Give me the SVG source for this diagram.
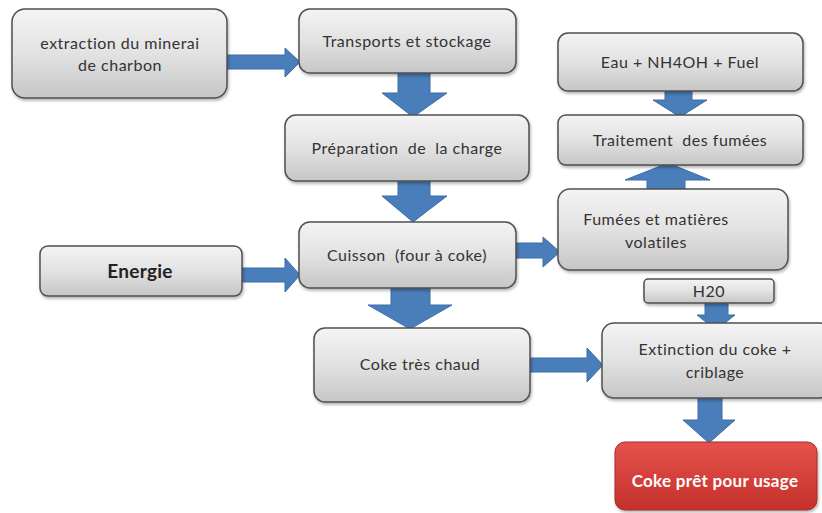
<svg xmlns="http://www.w3.org/2000/svg" width="822" height="513" viewBox="0 0 822 513">
  <style>
    .box { fill: url(#gray); stroke: #505050; stroke-width: 1.5; filter: url(#shadow); }
    .red { fill: url(#redg); stroke: #a52a2a; stroke-width: 1; filter: url(#shadow); }
    .lbl { font-family: Lato, "Open Sans", "Liberation Sans", sans-serif; font-size: 16px; letter-spacing: 0.5px; fill: #333; text-anchor: middle; }
    .big { font-size: 19px; font-weight: bold; fill: #222; letter-spacing: 0.3px; }
    .wht { fill: #fff; font-weight: bold; font-size: 17px; letter-spacing: 0.3px; }
    .arr { fill: #4a7ebb; stroke: #3d6da6; stroke-width: 1; stroke-linejoin: miter; }
  </style>
  <defs>
    <linearGradient id="gray" x1="0" y1="0" x2="0" y2="1">
      <stop offset="0" stop-color="#f4f4f4"/>
      <stop offset="0.5" stop-color="#e2e2e2"/>
      <stop offset="1" stop-color="#c6c6c6"/>
    </linearGradient>
    <linearGradient id="redg" x1="0" y1="0" x2="0" y2="1">
      <stop offset="0" stop-color="#e5524c"/>
      <stop offset="1" stop-color="#c5302c"/>
    </linearGradient>
    <filter id="shadow" x="-10%" y="-10%" width="125%" height="135%">
      <feDropShadow dx="1" dy="2" stdDeviation="1.5" flood-color="#000" flood-opacity="0.3"/>
    </filter>
  </defs>

  <!-- block arrows -->
  <g id="connectors">
    <polygon class="arr" points="227,55 285,55 285,48 300,62 285,77 285,69 227,69"/>
    <polygon class="arr" points="398,73 430,73 430,93 447,93 413,117 382,93 398,93"/>
    <polygon class="arr" points="398,181 430,181 430,196 447,196 413,222 382,196 398,196"/>
    <polygon class="arr" points="391,288 430,288 430,305 452,305 410,329 368,305 391,305"/>
    <polygon class="arr" points="242,268 285,268 285,258 300,275 285,292 285,282 242,282"/>
    <polygon class="arr" points="516,243 543,243 543,237 560,252 543,267 543,258 516,258"/>
    <polygon class="arr" points="665,91 692,91 692,100 707,100 680,117 653,100 665,100"/>
    <polygon class="arr" points="647,189 685,189 685,180 710,180 668,163 625,180 647,180"/>
    <polygon class="arr" points="705,303 728,303 728,315 735,315 716,330 697,315 705,315"/>
    <polygon class="arr" points="530,358 587,358 587,348 603,365 587,382 587,372 530,372"/>
    <polygon class="arr" points="698,398 722,398 722,420 735,420 709,443 683,420 698,420"/>
  </g>

  <g id="extraction">
    <rect class="box" x="12" y="9" width="215" height="89" rx="13"/>
    <text class="lbl" x="120" y="49">extraction du minerai</text>
    <text class="lbl" x="120" y="71">de charbon</text>
  </g>
  <g id="transports">
    <rect class="box" x="299" y="9" width="217" height="64" rx="11"/>
    <text class="lbl" x="407" y="47">Transports et stockage</text>
  </g>
  <g id="preparation">
    <rect class="box" x="285" y="115" width="244" height="66" rx="11"/>
    <text class="lbl" x="407" y="154" xml:space="preserve">Préparation  de  la charge</text>
  </g>
  <g id="cuisson">
    <rect class="box" x="299" y="222" width="217" height="66" rx="11"/>
    <text class="lbl" x="407" y="261" xml:space="preserve">Cuisson  (four à coke)</text>
  </g>
  <g id="energie">
    <rect class="box" x="40" y="246" width="202" height="50" rx="8"/>
    <text class="lbl big" x="140" y="278">Energie</text>
  </g>
  <g id="coke-chaud">
    <rect class="box" x="314" y="328" width="216" height="74" rx="11"/>
    <text class="lbl" x="420" y="370">Coke très chaud</text>
  </g>
  <g id="eau">
    <rect class="box" x="558" y="33" width="245" height="58" rx="10"/>
    <text class="lbl" x="680" y="68">Eau + NH4OH + Fuel</text>
  </g>
  <g id="traitement">
    <rect class="box" x="558" y="115" width="245" height="50" rx="8"/>
    <text class="lbl" x="680" y="146" xml:space="preserve">Traitement  des fumées</text>
  </g>
  <g id="fumees">
    <rect class="box" x="558" y="189" width="230" height="81" rx="12"/>
    <text class="lbl" x="656" y="225">Fumées et matières</text>
    <text class="lbl" x="656" y="248">volatiles</text>
  </g>
  <g id="h2o">
    <rect class="box" x="644" y="279" width="130" height="24" rx="4"/>
    <text class="lbl" x="709" y="297">H20</text>
  </g>
  <g id="extinction">
    <rect class="box" x="602" y="323" width="230" height="75" rx="12"/>
    <text class="lbl" x="715" y="355">Extinction du coke +</text>
    <text class="lbl" x="715" y="378">criblage</text>
  </g>
  <g id="coke-pret">
    <rect class="red" x="615" y="442" width="202" height="68" rx="10"/>
    <text class="lbl wht" x="715" y="487">Coke prêt pour usage</text>
  </g>
</svg>
